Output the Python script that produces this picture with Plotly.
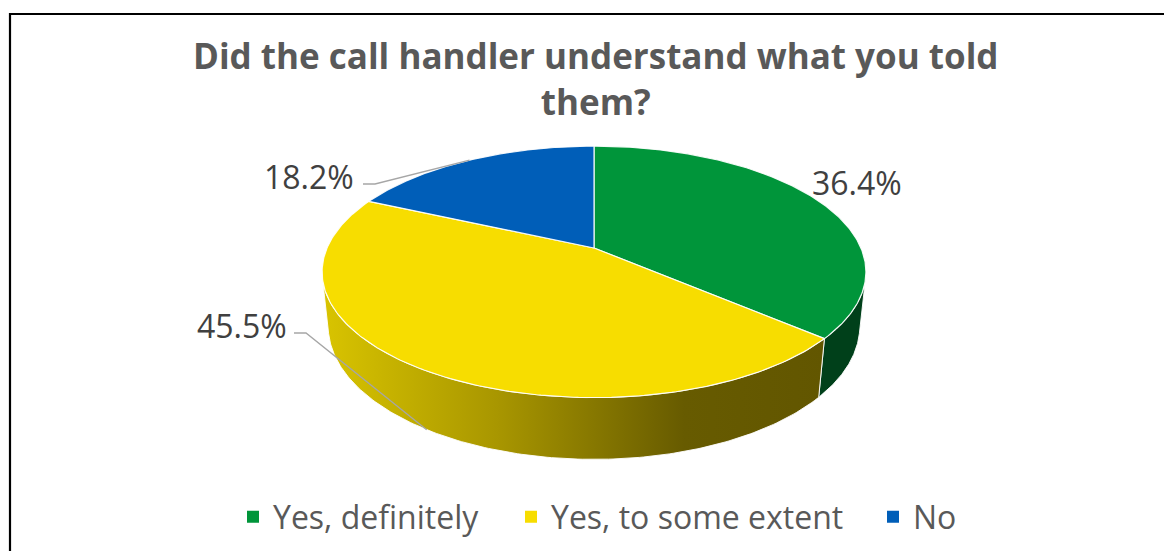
import numpy as np
import plotly.graph_objects as go

# ---------------- data ----------------
categories = ["Yes, definitely", "Yes, to some extent", "No"]
values = [36.4, 45.5, 18.2]
top_colors = ["#00953A", "#F7DD00", "#005EB8"]
side_colors = ["#00401A", "#8A7A00", "#003366"]
title_text = "Did the call handler understand what you told<br>them?"

# ---------------- 3D projection (layout parameters) ----------------
CX, CY, K, D = 594.0, 248.0, 1252.0, 4.69
ALPHA = np.radians(27.0)
H = 0.23
sa, ca = np.sin(ALPHA), np.cos(ALPHA)


def proj(phi, Y=0.0):
    phi = np.asarray(phi, dtype=float)
    X = np.sin(phi)
    Z = np.cos(phi)
    yc = Y * ca + Z * sa
    zc = -Y * sa + Z * ca + D
    return CX + K * X / zc, CY - K * yc / zc


fr = np.array(values) / np.sum(values)
bounds = np.concatenate([[0.0], np.cumsum(fr)]) * 2 * np.pi
vis_lo = np.arccos(-1.0 / (D * ca))
vis_hi = 2 * np.pi - vis_lo

fig = go.Figure()

# side walls (front visible part)
for i in range(len(values)):
    p0, p1 = bounds[i], bounds[i + 1]
    lo, hi = max(p0, vis_lo), min(p1, vis_hi)
    if lo >= hi:
        continue
    ph = np.linspace(lo, hi, 160)
    tx, ty = proj(ph, 0.0)
    bx, by = proj(ph[::-1], -H)
    xs = np.concatenate([tx, bx, tx[:1]])
    ys = np.concatenate([ty, by, ty[:1]])
    kw = {}
    if i == 1:
        kw["fillgradient"] = dict(
            type="horizontal",
            colorscale=[[0.0, "#D9C400"], [0.35, "#A89600"], [0.72, "#675B00"], [1.0, "#625600"]],
        )
    else:
        kw["fillcolor"] = side_colors[i]
    fig.add_trace(go.Scatter(
        x=xs, y=ys, mode="lines", fill="toself",
        line=dict(color="rgba(255,255,255,0.9)", width=1),
        hoverinfo="skip", showlegend=False, **kw))

# top faces
for i in range(len(values)):
    p0, p1 = bounds[i], bounds[i + 1]
    ph = np.linspace(p0, p1, 200)
    rx, ry = proj(ph, 0.0)
    xs = np.concatenate([[CX], rx, [CX]])
    ys = np.concatenate([[CY], ry, [CY]])
    fig.add_trace(go.Scatter(
        x=xs, y=ys, mode="lines", fill="toself", fillcolor=top_colors[i],
        line=dict(color="rgba(255,255,255,0.9)", width=1.2),
        name=categories[i], legendgroup=categories[i],
        hoverinfo="name", showlegend=False))

# legend entries (one legend box per entry for exact spacing)
legend_ids = ["legend", "legend2", "legend3"]
legend_sq_x = [254, 532, 894]  # square centres (px)
for i in range(len(values)):
    fig.add_trace(go.Scatter(
        x=[None], y=[None], mode="markers",
        marker=dict(symbol="square", size=12, color=top_colors[i]),
        name=categories[i], legendgroup=categories[i], showlegend=True,
        legend=legend_ids[i]))

# data labels with leader lines
mids = (bounds[:-1] + bounds[1:]) / 2
label_pos = [(857, 182), (242, 325), (309, 176)]
elbows = [None, ((294, 333), (306, 333)), ((363, 184), (375, 184))]
leader_depth = [0.0, -H, 0.0]
for i in range(len(values)):
    lx, ly = label_pos[i]
    fig.add_annotation(x=lx, y=ly, text=f"{values[i]:.1f}%", showarrow=False,
                       font=dict(family="Open Sans", size=32, color="#404040"),
                       xanchor="center", yanchor="middle")
    if elbows[i] is not None:
        ex, ey = proj(mids[i], leader_depth[i])
        (ax0, ay0), (ax1, ay1) = elbows[i]
        fig.add_trace(go.Scatter(
            x=[ax0, ax1, float(ex)], y=[ay0, ay1, float(ey)], mode="lines",
            line=dict(color="#A6A6A6", width=1.3), hoverinfo="skip", showlegend=False))

# title
fig.add_annotation(x=595, y=78, xref="x", yref="y", text=title_text, showarrow=False,
                   xanchor="center", yanchor="middle", align="center",
                   font=dict(family="Open Sans", size=35, color="#595959", weight="bold"))

# frame
fig.add_shape(type="path", path="M 10 551 L 10 14 L 1164 14", xref="x", yref="y",
              line=dict(color="black", width=2.2))

legend_common = dict(orientation="h", xanchor="left", y=1 - 517 / 551, yanchor="middle",
                     font=dict(family="Open Sans", size=32, color="#595959"),
                     bgcolor="rgba(0,0,0,0)", itemclick=False, itemdoubleclick=False)
layout_legends = {}
for lid, sx in zip(legend_ids, legend_sq_x):
    layout_legends[lid] = dict(x=(sx - 21) / 1164, **legend_common)

fig.update_layout(
    width=1164, height=551,
    margin=dict(l=0, r=0, t=0, b=0),
    paper_bgcolor="white", plot_bgcolor="white",
    xaxis=dict(range=[0, 1164], visible=False, fixedrange=True),
    yaxis=dict(range=[551, 0], visible=False, fixedrange=True),
    showlegend=True,
    **layout_legends,
)

fig.write_html("out.html")
